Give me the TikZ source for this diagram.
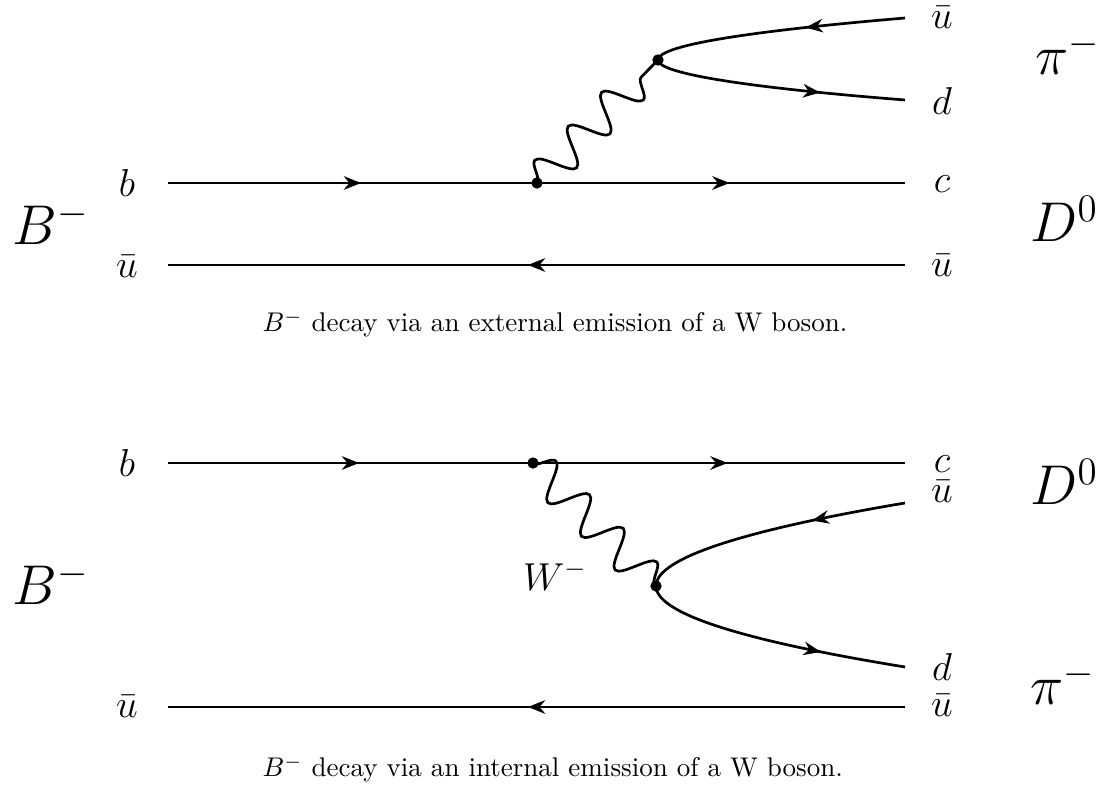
\documentclass[tikz,border=0pt]{standalone}
\usetikzlibrary{arrows.meta,decorations.pathmorphing,decorations.markings}

\begin{document}
\begin{tikzpicture}[
  x=0.37pt, y=0.37pt,
  fermion/.style={line width=1pt, postaction={decorate},
                  decoration={markings, mark=at position #1 with
                  {\arrow[xshift=3.2pt]{Stealth[length=6.4pt,width=5pt]}}}},
  fermion/.default=0.5,
  wboson/.style={line width=1pt, decorate,
                 decoration={snake, amplitude=6.5pt, segment length=17.6pt}},
  vtx/.style={circle, fill, inner sep=0pt, minimum size=4.2pt},
  qlab/.style={font=\Large, inner sep=0pt},
  hlab/.style={font=\huge, anchor=base west, inner sep=0pt},
  capt/.style={anchor=base west, inner sep=0pt}
]
\useasboundingbox (0,0) rectangle (1099,-790);

% ── external emission (top) ──────────────────────────────────────────
\coordinate (b1)  at (168,-183);
\coordinate (v1)  at (537,-183);
\coordinate (c1)  at (905,-183);
\coordinate (ua1) at (168,-265);
\coordinate (ub1) at (905,-265);
\coordinate (w1)  at (658,-60);
\coordinate (ut1) at (905,-18);
\coordinate (d1)  at (905,-100);

\node[qlab] (lb1)  at (127,-183) {$b$};
\node[qlab] (lua1) at (127,-267) {$\bar u$};
\node[qlab] (lut1) at (942,-18)  {$\bar u$};
\node[qlab] (ld1)  at (942,-101) {$d$};
\node[qlab] (lc1)  at (942,-184) {$c$};
\node[qlab] (lub1) at (942,-266) {$\bar u$};
\node[hlab] (B1)   at (12,-245)   {$B^-$};
\node[hlab] (pi1)  at (1035,-75)  {$\pi^-$};
\node[hlab] (D1)   at (1030,-242) {$D^0$};

\draw[fermion] (b1) -- (v1);
\draw[fermion] (v1) -- (c1);
\draw[fermion] (ub1) -- (ua1);
\draw[wboson] (v1) -- (w1);
\draw[fermion=0.36] (ut1) .. controls (740,-32) and (658,-46) .. (w1);
\draw[fermion=0.63] (w1) .. controls (658,-73) and (740,-87) .. (d1);
\node[vtx] (dv1) at (v1) {};
\node[vtx] (dw1) at (w1) {};

\node[capt] (cap1) at (262,-332) {$B^-$ decay via an external emission of a W boson.};

% ── internal emission (bottom) ───────────────────────────────────────
\coordinate (b2)  at (168,-463);
\coordinate (v2)  at (533,-463);
\coordinate (c2)  at (905,-463);
\coordinate (w2)  at (656,-586);
\coordinate (ut2) at (905,-503);
\coordinate (d2)  at (905,-667);
\coordinate (ua2) at (168,-707);
\coordinate (ub2) at (905,-707);

\node[qlab] (lb2)  at (127,-463) {$b$};
\node[qlab] (lua2) at (127,-707) {$\bar u$};
\node[qlab] (lc2)  at (942,-464) {$c$};
\node[qlab] (lut2) at (942,-492) {$\bar u$};
\node[qlab] (ld2)  at (942,-667) {$d$};
\node[qlab] (lub2) at (942,-706) {$\bar u$};
\node[qlab] (lw2)  at (555,-576) {$W^-$};
\node[hlab] (B2)   at (12,-605)   {$B^-$};
\node[hlab] (D2)   at (1030,-505) {$D^0$};
\node[hlab] (pi2)  at (1030,-705) {$\pi^-$};

\draw[fermion] (b2) -- (v2);
\draw[fermion] (v2) -- (c2);
\draw[fermion] (ub2) -- (ua2);
\draw[wboson] (v2) -- (w2);
\draw[fermion=0.32] (ut2) .. controls (739,-531) and (656,-559) .. (w2);
\draw[fermion=0.65] (w2) .. controls (656,-613) and (739,-640) .. (d2);
\node[vtx] (dv2) at (v2) {};
\node[vtx] (dw2) at (w2) {};

\node[capt] (cap2) at (262,-777) {$B^-$ decay via an internal emission of a W boson.};

\end{tikzpicture}
\end{document}
